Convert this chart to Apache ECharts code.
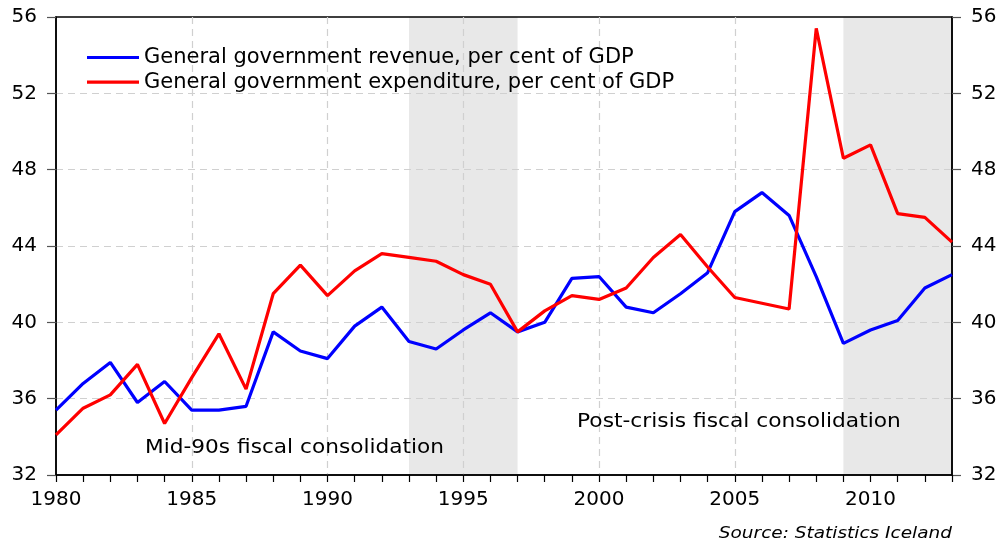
<!DOCTYPE html>
<html>
<head>
<meta charset="utf-8">
<script src="https://cdn.jsdelivr.net/npm/echarts@6/dist/echarts.min.js"></script>
<style>html,body{margin:0;padding:0;background:#fff}#c{width:1000px;height:544px}</style>
</head>
<body>
<div id="c"></div>
<script>
const years = ['1980','1981','1982','1983','1984','1985','1986','1987','1988','1989','1990','1991','1992','1993','1994','1995','1996','1997','1998','1999','2000','2001','2002','2003','2004','2005','2006','2007','2008','2009','2010','2011','2012','2013'];
const revenue = [35.4,36.8,37.9,35.8,36.9,35.4,35.4,35.6,39.5,38.5,38.1,39.8,40.8,39.0,38.6,39.6,40.5,39.5,40.0,42.3,42.4,40.8,40.5,41.5,42.6,45.8,46.8,45.6,42.4,38.9,39.6,40.1,41.8,42.5];
const expenditure = [34.1,35.5,36.2,37.8,34.7,37.1,39.4,36.5,41.5,43.0,41.4,42.7,43.6,43.4,43.2,42.5,42.0,39.5,40.6,41.4,41.2,41.8,43.4,44.6,42.9,41.3,41.0,40.7,55.4,48.6,49.3,45.7,45.5,44.2];
const seriesNames = ['General government revenue, per cent of GDP','General government expenditure, per cent of GDP'];
const bands = [['1993','1997'],['2009','2013']];
const annotations = ['Mid-90s fiscal consolidation','Post-crisis fiscal consolidation'];
const sourceText = 'Source: Statistics Iceland';

const FONT = '"DejaVu Sans", "Liberation Sans", Arial, sans-serif';
const chart = echarts.init(document.getElementById('c'));
const gridLine = {show: true, showMinLine: false, showMaxLine: false, lineStyle: {color: '#d0d0d0', type: [7, 5], width: 1.2}};
const yAxisCommon = {
  type: 'value', min: 32, max: 56, interval: 4, z: 2,
  axisLine: {show: true, lineStyle: {color: '#000', width: 1.5}},
  axisTick: {show: true, inside: false, length: 9, lineStyle: {color: '#555', width: 1.2}},
  axisLabel: {color: '#000', fontSize: 20, fontFamily: FONT, margin: 19}
};
chart.setOption({
  animation: false,
  backgroundColor: '#fff',
  grid: {left: 56, right: 48, top: 17, bottom: 69, show: true, z: 2, borderColor: '#000', borderWidth: 1.5, containLabel: false},
  legend: {
    orient: 'vertical', left: 82, top: 42, itemGap: 3.6,
    icon: 'rect', itemWidth: 52, itemHeight: 3.2,
    textStyle: {fontSize: 21, fontFamily: FONT, color: '#000'},
    data: seriesNames
  },
  xAxis: {
    type: 'category', data: years, boundaryGap: false, z: 2,
    axisLine: {show: true, lineStyle: {color: '#000', width: 1.5}},
    axisTick: {show: true, interval: 0, length: 7, lineStyle: {color: '#000', width: 1.2}},
    axisLabel: {interval: 4, color: '#000', fontSize: 20, fontFamily: FONT, margin: 15},
    splitLine: Object.assign({interval: 4}, gridLine)
  },
  yAxis: [
    Object.assign({}, yAxisCommon, {position: 'left', splitLine: gridLine}),
    Object.assign({}, yAxisCommon, {position: 'right', splitLine: {show: false}})
  ],
  series: [
    {
      name: 'bands', type: 'line', data: [], z: 1, silent: true,
      markArea: {
        silent: true, z: 1, itemStyle: {color: '#e8e8e8'},
        data: bands.map(b => [{xAxis: b[0]}, {xAxis: b[1]}])
      }
    },
    {
      name: seriesNames[0], type: 'line', data: revenue, symbol: 'none',
      lineStyle: {color: '#0000ff', width: 3.2}, itemStyle: {color: '#0000ff'}, z: 5
    },
    {
      name: seriesNames[1], type: 'line', data: expenditure, symbol: 'none',
      lineStyle: {color: '#ff0000', width: 3.2}, itemStyle: {color: '#ff0000'}, z: 6
    }
  ],
  graphic: [
    {type: 'text', x: 145, y: 448.5, scaleX: 1.14, z: 100,
     style: {text: annotations[0], fontSize: 19, fontFamily: FONT, fill: '#000', align: 'left', verticalAlign: 'middle'}},
    {type: 'text', x: 577, y: 422, scaleX: 1.145, z: 100,
     style: {text: annotations[1], fontSize: 19, fontFamily: FONT, fill: '#000', align: 'left', verticalAlign: 'middle'}},
    {type: 'text', x: 952, y: 534, scaleX: 1.12, z: 100,
     style: {text: sourceText, fontSize: 16.5, fontStyle: 'italic', fontFamily: FONT, fill: '#000', align: 'right', verticalAlign: 'middle'}}
  ]
});
</script>
</body>
</html>
